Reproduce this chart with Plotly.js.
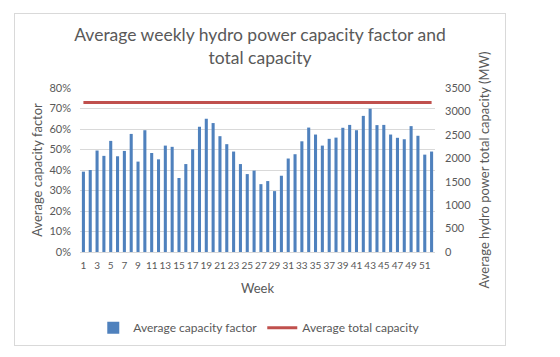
<!DOCTYPE html>
<html><head><meta charset="utf-8">
<script src="https://cdn.plot.ly/plotly-3.0.1.min.js"></script>
<style>
html,body{margin:0;padding:0;background:#fff;width:560px;height:357px;overflow:hidden}
#box{position:absolute;left:14px;top:13px;width:492px;height:333px;border:1px solid #d9d9d9;box-sizing:border-box}
#chart{width:490px;height:331px}
</style></head>
<body><div id="box"><div id="chart"></div></div>
<script>
var weeks = [];
for (var i = 1; i <= 52; i++) weeks.push(i);
var capacityFactor = [0.392,0.400,0.495,0.469,0.542,0.467,0.493,0.576,0.441,0.594,0.483,0.452,0.519,0.513,0.361,0.429,0.501,0.611,0.650,0.629,0.565,0.526,0.490,0.429,0.380,0.397,0.331,0.346,0.297,0.372,0.456,0.477,0.540,0.607,0.573,0.519,0.552,0.558,0.606,0.620,0.594,0.664,0.699,0.619,0.620,0.573,0.557,0.550,0.614,0.567,0.475,0.490];
var totalCapacity = [];
for (var j = 0; j < 52; j++) totalCapacity.push(3190);
var tickVals = [1,3,5,7,9,11,13,15,17,19,21,23,25,27,29,31,33,35,37,39,41,43,45,47,49,51];

var font = 'Lato, "Open Sans", sans-serif';
var grey = '#595959';
var data = [
  {type:'bar', x:weeks, y:capacityFactor, name:'Average capacity factor', marker:{color:'#4f81bd'}, yaxis:'y'},
  {type:'scatter', mode:'lines', x:weeks, y:totalCapacity, name:'Average total capacity', line:{color:'#c0504d', width:3}, yaxis:'y2'}
];
var layout = {
  width:490, height:331,
  margin:{l:65, r:70, t:74, b:93},
  paper_bgcolor:'#fff', plot_bgcolor:'#fff',
  font:{family:font, color:grey, size:11},
  title:{text:'Average weekly hydro power capacity factor and<br>total capacity', font:{family:font, size:17.5, color:grey}, x:0.5, xanchor:'center', y:0.918, yanchor:'middle', yref:'container', automargin:false},
  bargap:0.55,
  showlegend:true,
  legend:{orientation:'h', x:0.505, xanchor:'center', yref:'container', y:0.052, yanchor:'middle', font:{size:12, color:grey}},
  xaxis:{tickmode:'array', tickvals:tickVals, ticktext:tickVals.map(String), tickangle:0, automargin:false, ticklabelstandoff:4, range:[0.5,52.5], showgrid:false, zeroline:false, showline:true, linecolor:'#d9d9d9', ticks:'', tickfont:{size:10}, title:{text:'Week', font:{size:13}, standoff:13}},
  yaxis:{range:[0,0.8], dtick:0.1, tickformat:'.0%', automargin:false, ticklabelstandoff:8, gridcolor:'#d9d9d9', zeroline:false, ticks:'', tickfont:{size:11}, title:{text:'Average capacity factor', font:{size:13}, standoff:3}},
  yaxis2:{overlaying:'y', side:'right', range:[0,3500], dtick:500, automargin:false, ticklabelstandoff:9, showgrid:false, zeroline:false, ticks:'', tickfont:{size:11}, title:{text:'Average hydro power total capacity (MW)', font:{size:13}, standoff:9}}
};
Plotly.newPlot('chart', data, layout, {displayModeBar:false});
</script></body></html>
